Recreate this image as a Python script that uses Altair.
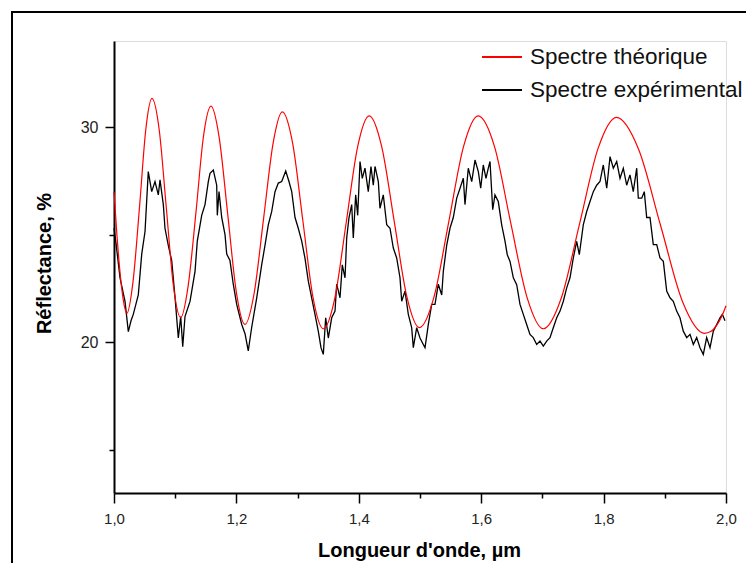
import altair as alt
import pandas as pd

# Theoretical spectrum (red)
theo_x = [1.000, 1.005, 1.010, 1.015, 1.021, 1.031, 1.042, 1.052, 1.062, 1.074, 1.0855, 1.097,
          1.109, 1.121, 1.134, 1.146, 1.1585, 1.172, 1.186, 1.200, 1.214, 1.229, 1.2445, 1.260,
          1.275, 1.292, 1.3085, 1.325, 1.342, 1.361, 1.3795, 1.398, 1.417, 1.4375, 1.458, 1.4785,
          1.499, 1.523, 1.547, 1.571, 1.595, 1.622, 1.648, 1.675, 1.7015, 1.731, 1.761, 1.791,
          1.821, 1.857, 1.893, 1.929, 1.965, 1.975, 1.985, 1.993, 2.000]
theo_y = [27.0, 24.9, 23.2, 22.0, 21.35, 22.8, 26.4, 29.9, 31.33, 29.84, 26.24, 22.64,
          21.15, 22.59, 26.06, 29.53, 30.97, 29.49, 25.90, 22.31, 20.83, 22.28, 25.77, 29.26,
          30.71, 29.23, 25.67, 22.11, 20.63, 22.08, 25.58, 29.07, 30.52, 29.08, 25.60, 22.12,
          20.68, 22.12, 25.60, 29.08, 30.52, 29.07, 25.58, 22.08, 20.63, 22.07, 25.54, 29.01,
          30.45, 28.98, 25.44, 21.89, 20.42, 20.5, 20.8, 21.2, 21.7]

exp_x = [1.0000, 1.0033, 1.0098, 1.0180, 1.0234, 1.0278, 1.0315, 1.0397, 1.0453, 1.0507,
         1.0560, 1.0616, 1.0670, 1.0724, 1.0752, 1.0806, 1.0833, 1.0887, 1.0943, 1.0997,
         1.1051, 1.1090, 1.1123, 1.1160, 1.1242, 1.1324, 1.1361, 1.1433, 1.1487, 1.1541,
         1.1569, 1.1623, 1.1678, 1.1688, 1.1716, 1.1760, 1.1814, 1.1842, 1.1895, 1.1949,
         1.2005, 1.2087, 1.2141, 1.2194, 1.2250, 1.2332, 1.2413, 1.2467, 1.2521, 1.2577,
         1.2631, 1.2685, 1.2740, 1.2806, 1.2859, 1.2904, 1.2958, 1.3011, 1.3067, 1.3121,
         1.3175, 1.3230, 1.3284, 1.3338, 1.3382, 1.3420, 1.3459, 1.3502, 1.3557, 1.3611,
         1.3639, 1.3693, 1.3730, 1.3775, 1.3802, 1.3840, 1.3884, 1.3910, 1.3949, 1.3982,
         1.4020, 1.4057, 1.4101, 1.4155, 1.4199, 1.4237, 1.4265, 1.4319, 1.4346, 1.4400,
         1.4456, 1.4510, 1.4564, 1.4619, 1.4673, 1.4701, 1.4755, 1.4809, 1.4864, 1.4891,
         1.4946, 1.5000, 1.5054, 1.5082, 1.5136, 1.5191, 1.5245, 1.5299, 1.5355, 1.5381,
         1.5436, 1.5490, 1.5544, 1.5600, 1.5654, 1.5708, 1.5735, 1.5789, 1.5845, 1.5899,
         1.5953, 1.5992, 1.6034, 1.6078, 1.6116, 1.6144, 1.6188, 1.6225, 1.6279, 1.6335,
         1.6389, 1.6426, 1.6471, 1.6525, 1.6580, 1.6634, 1.6688, 1.6743, 1.6797, 1.6851,
         1.6907, 1.6961, 1.7015, 1.7070, 1.7124, 1.7178, 1.7234, 1.7288, 1.7342, 1.7397,
         1.7451, 1.7505, 1.7560, 1.7603, 1.7668, 1.7724, 1.7778, 1.7832, 1.7887, 1.7941,
         1.7995, 1.8051, 1.8105, 1.8159, 1.8214, 1.8268, 1.8322, 1.8377, 1.8431, 1.8485,
         1.8541, 1.8567, 1.8623, 1.8665, 1.8704, 1.8758, 1.8812, 1.8868, 1.8922, 1.8976,
         1.9031, 1.9085, 1.9139, 1.9194, 1.9248, 1.9302, 1.9358, 1.9412, 1.9466, 1.9521,
         1.9575, 1.9629, 1.9684, 1.9739, 1.9793, 1.9848, 1.9902, 1.9940, 1.9984]
exp_y = [25.3, 24.6, 23.0, 21.9, 20.5, 21.0, 21.3, 22.2, 24.1, 25.15,
         27.93, 27.0, 27.47, 26.85, 27.55, 26.4, 25.3, 24.5, 23.8, 22.1,
         20.2, 21.2, 19.8, 21.2, 21.9, 23.3, 24.7, 25.9, 26.4, 27.47,
         27.85, 28.0, 27.3, 25.9, 27.0, 25.8, 25.0, 24.1, 23.8, 22.7,
         21.76, 20.83, 20.4, 19.6, 20.7, 22.07, 23.6, 24.5, 25.46, 26.08,
         27.0, 27.4, 27.47, 27.96, 27.47, 27.0, 25.8, 25.3, 24.7, 23.9,
         22.84, 22.07, 21.3, 20.52, 19.75, 19.44, 21.14, 20.2, 21.14, 21.45,
         22.7, 22.07, 23.6, 23.0, 24.85, 25.8, 26.4, 24.85, 26.85, 25.9,
         28.4, 27.62, 28.09, 27.0, 28.17, 27.3, 28.17, 27.47, 26.23, 26.85,
         25.46, 25.3, 24.38, 23.92, 23.0, 21.91, 22.38, 21.3, 20.68, 19.75,
         20.68, 20.2, 19.9, 19.75, 20.83, 21.76, 21.76, 22.7, 22.2, 23.3,
         24.5, 25.3, 25.8, 26.7, 27.16, 27.62, 26.4, 28.09, 27.47, 28.47,
         27.93, 27.16, 28.24, 27.62, 28.09, 28.4, 26.16, 26.85, 26.54, 25.46,
         24.7, 24.07, 23.76, 23.0, 22.68, 21.76, 21.3, 20.83, 20.37, 20.22,
         19.9, 20.06, 19.83, 20.06, 20.22, 20.68, 21.14, 21.45, 21.91, 22.53,
         23.0, 23.92, 24.69, 24.07, 25.46, 26.08, 26.54, 27.0, 27.3, 27.47,
         28.24, 27.16, 28.63, 28.09, 28.4, 27.62, 28.09, 27.3, 27.78, 27.0,
         28.09, 26.7, 26.7, 27.0, 25.8, 25.8, 24.54, 24.54, 23.92, 23.76,
         22.38, 22.07, 21.91, 21.45, 21.14, 20.52, 20.22, 20.37, 19.9, 20.22,
         19.75, 19.44, 20.22, 19.75, 20.52, 20.83, 21.14, 21.3, 21.0]

series_names = ["Spectre théorique", "Spectre expérimental"]
series_colors = ["#ff0000", "#000000"]

x_ticks = [1.0, 1.1, 1.2, 1.3, 1.4, 1.5, 1.6, 1.7, 1.8, 1.9, 2.0]
y_ticks = [15, 20, 25, 30]

theo = pd.DataFrame({"x": theo_x, "y": theo_y, "s": series_names[0]})
expe = pd.DataFrame({"x": exp_x, "y": exp_y, "s": series_names[1]})

FONT = "Liberation Sans"

x_enc = alt.X(
    "x:Q",
    scale=alt.Scale(domain=[1.0, 2.0], nice=False, zero=False),
    axis=alt.Axis(
        title="Longueur d'onde, µm",
        values=x_ticks,
        labelExpr="round(datum.value*10) % 2 == 0 ? replace(format(datum.value, '.1f'), '.', ',') : ''",
        tickSize={"condition": {"test": "round(datum.value*10) % 2 == 0", "value": 10}, "value": 5},
        grid=False,
        domainColor="#000000",
        domainWidth=2,
        tickColor="#000000",
        tickWidth=1.5,
        labelFont=FONT,
        labelFontSize=15,
        labelColor="#222222",
        labelBaseline="alphabetic",
        labelPadding=20,
        titleFont=FONT,
        titleFontSize=20,
        titleFontWeight="bold",
        titleColor="#000000",
        titleBaseline="alphabetic",
        titleX=305,
        titleY=63,
        labelFlush=False,
    ),
)
y_enc = alt.Y(
    "y:Q",
    scale=alt.Scale(domain=[13, 34], nice=False, zero=False),
    axis=alt.Axis(
        title="Réflectance, %",
        values=y_ticks,
        labelExpr="datum.value % 10 == 0 ? datum.label : ''",
        tickSize={"condition": {"test": "datum.value % 10 == 0", "value": 9}, "value": 5},
        grid=False,
        domainColor="#000000",
        domainWidth=2,
        tickColor="#000000",
        tickWidth=1.5,
        labelFont=FONT,
        labelFontSize=16,
        labelColor="#222222",
        labelPadding=7,
        titleFont=FONT,
        titleFontSize=20,
        titleFontWeight="bold",
        titleColor="#000000",
        titleBaseline="alphabetic",
        titleX=-64,
        titleY=222,
        labelFlush=False,
    ),
)
color_enc = alt.Color(
    "s:N",
    scale=alt.Scale(domain=series_names, range=series_colors),
    legend=alt.Legend(
        title="",
        orient="none",
        legendX=367,
        legendY=-5,
        symbolType="stroke",
        symbolSize=1600,
        symbolStrokeWidth=2,
        labelFont=FONT,
        labelFontSize=22.5,
        labelColor="#111111",
        labelOffset=7,
        rowPadding=0,
        padding=0,
        labelLimit=400,
    ),
)

red = alt.Chart(theo).mark_line(strokeWidth=1.2, interpolate="monotone").encode(
    x=x_enc, y=y_enc, color=color_enc
)
black = alt.Chart(expe).mark_line(strokeWidth=1.3).encode(
    x=x_enc, y=y_enc, color=color_enc
)

one = pd.DataFrame({"a": [0]})
frame_left = alt.Chart(one).mark_rule(color="#000000", strokeWidth=2).encode(
    x=alt.value(-102), y=alt.value(-29), y2=alt.value(700)
)
frame_top = alt.Chart(one).mark_rule(color="#000000", strokeWidth=2).encode(
    x=alt.value(-103), x2=alt.value(900), y=alt.value(-29)
)

chart = alt.layer(black, red, frame_left, frame_top).properties(
    width=612,
    height=452,
    autosize=alt.AutoSizeParams(type="none"),
    padding={"left": 106, "top": 33, "right": 20, "bottom": 70},
).configure_view(stroke=None).configure(background="#ffffff")

chart.save("out.html", embed_options={"renderer": "svg", "actions": False})
